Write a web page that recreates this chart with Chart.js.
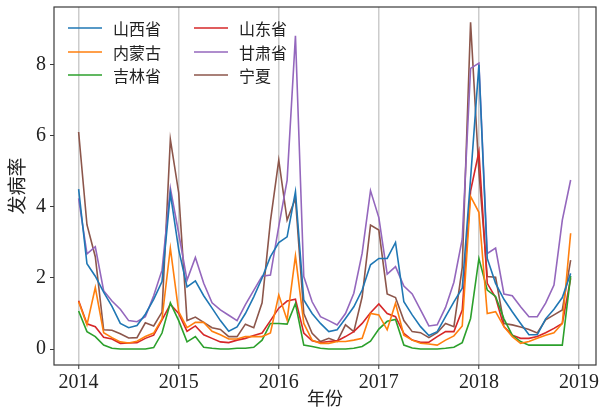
<!DOCTYPE html>
<html>
<head>
<meta charset="utf-8">
<script src="https://cdn.jsdelivr.net/npm/chart.js@4"></script>
<style>
  html, body { margin: 0; padding: 0; background: #fff; }
  canvas { display: block; }
</style>
</head>
<body>
<canvas id="chart" width="599" height="407"></canvas>
<script>
/* ================= DATA ================= */
const years = [2014, 2015, 2016, 2017, 2018];
const xTicks = [2014, 2015, 2016, 2017, 2018, 2019];
const yTicks = [0, 2, 4, 6, 8];

// one point per month, Jan 2014 .. Dec 2018
const months = years.flatMap(y => Array.from({ length: 12 }, (_, k) => y + k / 12));

const labels = ["山西省", "内蒙古", "吉林省", "山东省", "甘肃省", "宁夏"];
const colors = ["#1f77b4", "#ff7f0e", "#2ca02c", "#d62728", "#9467bd", "#8c564b"];

const shanxi = [
  4.5, 2.4, 2.05, 1.6, 1.2, 0.72, 0.6, 0.66, 0.98, 1.4, 1.9, 4.38,
  2.8, 1.75, 1.92, 1.5, 1.15, 0.8, 0.5, 0.62, 1.0, 1.47, 2.0, 2.6,
  3.0, 3.16, 4.43, 1.38, 1.0, 0.72, 0.49, 0.54, 0.86, 1.19, 1.66, 2.37,
  2.55, 2.55, 3.0, 1.33, 0.96, 0.63, 0.38, 0.49, 0.91, 1.33, 1.71, 4.8,
  8.0, 2.55, 1.85, 1.4, 1.05, 0.72, 0.4, 0.4, 0.85, 1.12, 1.45, 2.13
];
const neimenggu = [
  1.33, 0.68, 1.73, 0.46, 0.32, 0.2, 0.17, 0.22, 0.35, 0.45, 0.85, 2.84,
  1.05, 0.6, 0.75, 0.75, 0.5, 0.4, 0.28, 0.28, 0.35, 0.35, 0.35, 0.45,
  1.52, 0.82, 2.62, 0.72, 0.25, 0.16, 0.16, 0.21, 0.21, 0.25, 0.3, 1.0,
  0.96, 0.54, 1.29, 0.39, 0.25, 0.16, 0.14, 0.11, 0.25, 0.37, 0.65, 4.3,
  3.85, 1.0, 1.05, 0.63, 0.35, 0.16, 0.21, 0.3, 0.39, 0.46, 0.72, 3.26
];
const jilin = [
  1.07, 0.49, 0.35, 0.11, 0.02, 0.0, 0.0, 0.0, 0.0, 0.04, 0.45, 1.3,
  0.8, 0.2, 0.35, 0.05, 0.02, 0.0, 0.0, 0.02, 0.02, 0.05, 0.25, 0.72,
  0.72, 0.7, 1.28, 0.11, 0.07, 0.02, 0.0, 0.0, 0.0, 0.02, 0.07, 0.22,
  0.56, 0.78, 0.83, 0.11, 0.03, 0.0, 0.0, 0.0, 0.02, 0.05, 0.18, 0.86,
  2.55, 1.66, 1.48, 0.85, 0.39, 0.21, 0.11, 0.11, 0.11, 0.11, 0.11, 2.06
];
const shandong = [
  1.36, 0.71, 0.63, 0.33, 0.28, 0.16, 0.17, 0.18, 0.3, 0.39, 0.82, 1.26,
  1.0, 0.5, 0.65, 0.4, 0.3, 0.2, 0.18, 0.25, 0.3, 0.38, 0.45, 0.8,
  1.15, 1.35, 1.4, 0.45, 0.23, 0.18, 0.21, 0.23, 0.35, 0.49, 0.72, 1.02,
  1.27, 1.0, 0.91, 0.44, 0.25, 0.19, 0.19, 0.35, 0.49, 0.49, 1.1, 4.45,
  5.56, 1.85, 1.45, 0.63, 0.39, 0.3, 0.3, 0.35, 0.46, 0.58, 0.72, 1.99
];
const gansu = [
  4.24, 2.68, 2.88, 1.64, 1.35, 1.12, 0.8, 0.77, 0.91, 1.5, 2.22, 4.53,
  3.26, 1.94, 2.58, 1.85, 1.3, 1.1, 0.95, 0.8, 1.25, 1.65, 2.05, 2.08,
  3.45, 4.75, 8.82, 2.04, 1.33, 0.91, 0.8, 0.68, 1.0, 1.57, 2.7, 4.46,
  3.7, 2.11, 2.32, 1.77, 1.55, 1.1, 0.65, 0.68, 1.17, 1.88, 3.1, 7.9,
  8.05, 2.69, 2.84, 1.55, 1.5, 1.19, 0.91, 0.91, 1.29, 1.8, 3.63, 4.76
];
const ningxia = [
  6.11, 3.5, 2.6, 0.54, 0.53, 0.43, 0.31, 0.32, 0.74, 0.65, 1.04, 5.9,
  4.4, 0.8, 0.9, 0.75, 0.6, 0.55, 0.35, 0.35, 0.7, 0.6, 1.3, 3.6,
  5.32, 3.63, 4.24, 1.0, 0.44, 0.21, 0.3, 0.21, 0.68, 0.49, 1.47, 3.49,
  3.35, 1.55, 1.45, 0.8, 0.49, 0.46, 0.32, 0.46, 0.72, 0.63, 2.3, 9.2,
  5.0, 2.04, 2.02, 0.72, 0.68, 0.62, 0.55, 0.45, 0.82, 0.96, 1.1, 2.5
];

const series = [shanxi, neimenggu, jilin, shandong, gansu, ningxia];

/* ================= PLUGINS ================= */
const SERIF = "'Liberation Serif', 'DejaVu Serif', serif";
const CJK = "'Noto Sans CJK SC', 'Noto Sans', sans-serif";

// matplotlib style frame round the plot area
const framePlugin = {
  id: "frame",
  afterDatasetsDraw(chart) {
    const { ctx, chartArea: a } = chart;
    ctx.save();
    ctx.strokeStyle = "#3a3a3a";
    ctx.lineWidth = 1.2;
    ctx.strokeRect(a.left, a.top, a.right - a.left, a.bottom - a.top);
    ctx.restore();
  }
};

// two-column legend, filled column first
const legendPlugin = {
  id: "colLegend",
  afterDraw(chart) {
    const { ctx, chartArea: a } = chart;
    const colX = [14, 140];
    const rowY = [21, 45, 68];
    ctx.save();
    ctx.font = "16px " + CJK;
    ctx.textBaseline = "middle";
    ctx.fillStyle = "#222";
    chart.data.datasets.forEach((ds, i) => {
      const x = a.left + colX[Math.floor(i / 3)];
      const y = a.top + rowY[i % 3];
      ctx.strokeStyle = ds.borderColor;
      ctx.lineWidth = 1.6;
      ctx.beginPath();
      ctx.moveTo(x, y);
      ctx.lineTo(x + 34, y);
      ctx.stroke();
      ctx.fillText(ds.label, x + 45, y + 1);
    });
    ctx.restore();
  }
};

/* ================= CHART ================= */
new Chart(document.getElementById("chart"), {
  type: "line",
  data: {
    datasets: series.map((vals, i) => ({
      label: labels[i],
      data: vals.map((v, k) => ({ x: months[k], y: v })),
      borderColor: colors[i],
      backgroundColor: colors[i],
      borderWidth: 1.6,
      pointRadius: 0,
      tension: 0,
      fill: false
    }))
  },
  options: {
    responsive: false,
    animation: false,
    devicePixelRatio: 1,
    layout: { padding: { left: 0, right: 3, top: 7, bottom: 0 } },
    plugins: {
      legend: { display: false },
      tooltip: { enabled: false }
    },
    scales: {
      x: {
        type: "linear",
        min: 2013.754,
        max: 2019.17,
        afterBuildTicks: s => { s.ticks = xTicks.map(v => ({ value: v })); },
        afterFit: s => {
          s.height = 42;
          s.paddingLeft = 0;
          s.paddingRight = 0;
        },
        grid: {
          color: "#cccccc",
          lineWidth: 1.5,
          tickColor: "#3a3a3a",
          tickLength: 4,
          tickWidth: 1
        },
        border: { display: false },
        ticks: {
          color: "#222",
          padding: 2,
          maxRotation: 0,
          font: { family: SERIF, size: 20 },
          callback: v => String(v)
        },
        title: {
          display: true,
          text: "年份",
          color: "#222",
          font: { family: CJK, size: 18, lineHeight: 1 },
          padding: { top: 0, bottom: 0 }
        }
      },
      y: {
        min: -0.45,
        max: 9.63,
        afterBuildTicks: s => { s.ticks = yTicks.map(v => ({ value: v })); },
        afterFit: s => {
          s.width = 54;
          s.paddingTop = 0;
          s.paddingBottom = 0;
        },
        grid: {
          drawOnChartArea: false,
          tickColor: "#3a3a3a",
          tickLength: 4,
          tickWidth: 1
        },
        border: { display: false },
        ticks: {
          color: "#222",
          padding: 4,
          font: { family: SERIF, size: 20 },
          callback: v => String(v)
        },
        title: {
          display: true,
          text: "发病率",
          color: "#222",
          font: { family: CJK, size: 19, lineHeight: 1 },
          padding: { top: 7, bottom: 0 }
        }
      }
    }
  },
  plugins: [framePlugin, legendPlugin]
});
</script>
</body>
</html>
